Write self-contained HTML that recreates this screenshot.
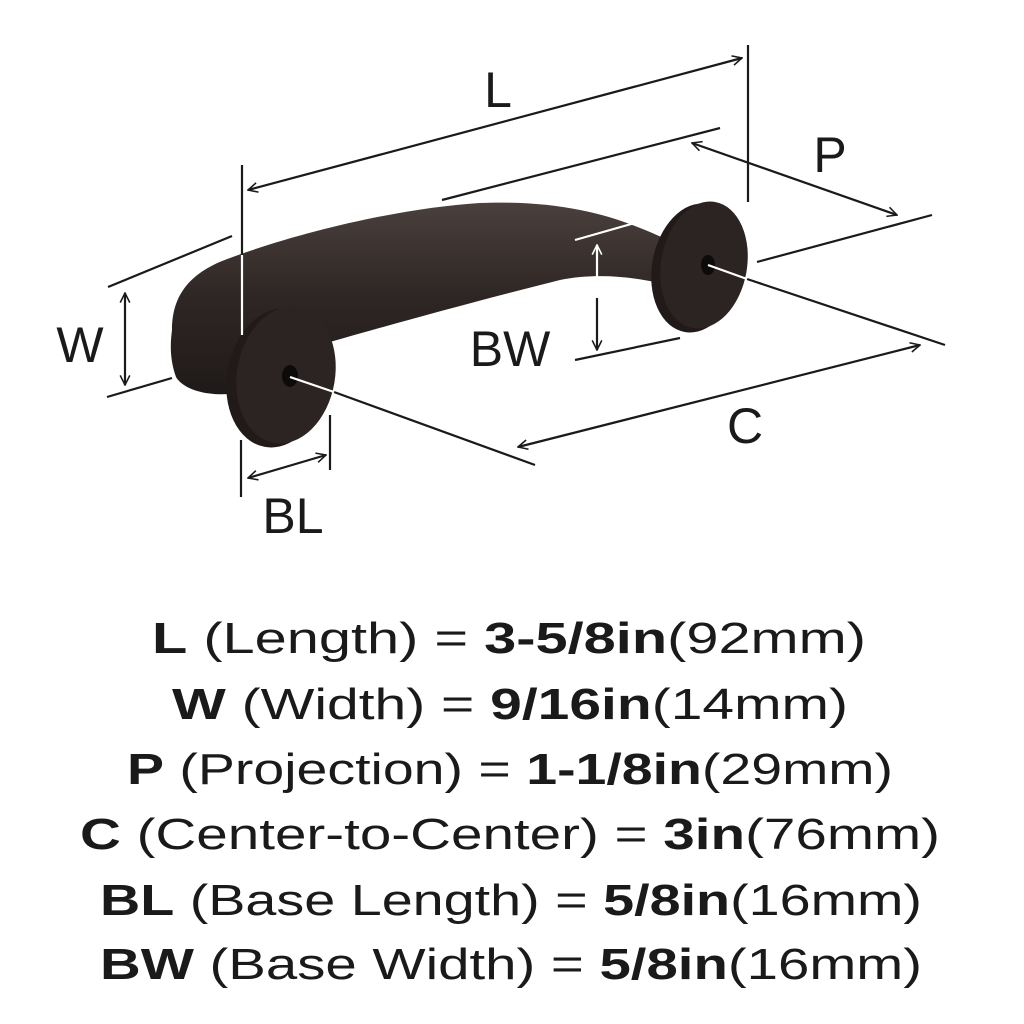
<!DOCTYPE html>
<html><head><meta charset="utf-8"><style>html,body{margin:0;padding:0;background:#fff}svg{display:block}</style></head>
<body>
<svg width="1024" height="1024" viewBox="0 0 1024 1024" xmlns="http://www.w3.org/2000/svg">
<defs>
<linearGradient id="hg" x1="0" y1="0" x2="0" y2="1">
<stop offset="0" stop-color="#4a403d"/><stop offset="0.5" stop-color="#2e2624"/><stop offset="1" stop-color="#1f1a19"/>
</linearGradient>
<marker id="ah" viewBox="0 0 10 10" refX="9" refY="5" markerWidth="12" markerHeight="12" orient="auto-start-reverse" markerUnits="userSpaceOnUse">
<path d="M1,1 L9,5 L1,9" fill="none" stroke="context-stroke" stroke-width="1.3"/>
</marker>
</defs>
<path d="M172,330 C172,295 190,272 230,258 C300,232 400,208 480,203 C560,200 610,215 650,232 L668,240 L668,285 C640,278 600,272 560,280 C480,300 400,322 330,342 C280,358 255,375 245,392 C215,398 185,392 176,377 C170,360 170,345 172,330 Z" fill="url(#hg)"/>
<ellipse cx="696" cy="268" rx="44" ry="65" transform="rotate(10 696 268)" fill="#211a19"/>
<ellipse cx="704" cy="265" rx="43" ry="64" transform="rotate(10 704 265)" fill="#2c2422"/>
<ellipse cx="708" cy="265" rx="7" ry="10" fill="#0d0a0a"/>
<ellipse cx="277" cy="378" rx="50" ry="70" transform="rotate(10 277 378)" fill="#211a19"/>
<ellipse cx="286" cy="375" rx="49" ry="69" transform="rotate(10 286 375)" fill="#2c2422"/>
<ellipse cx="290" cy="376" rx="8" ry="11" fill="#0d0a0a"/>
<g stroke="#1a1a1a" stroke-width="2.2" fill="none">
<line x1="248" y1="190" x2="742" y2="58" marker-start="url(#ah)" marker-end="url(#ah)"/>
<line x1="748" y1="45" x2="748" y2="202"/>
<line x1="242" y1="165" x2="242" y2="255"/>
<line x1="442" y1="200" x2="720" y2="128"/>
<line x1="692" y1="143" x2="897" y2="215" marker-start="url(#ah)" marker-end="url(#ah)"/>
<line x1="757" y1="262" x2="932" y2="215"/>
<line x1="108" y1="287" x2="232" y2="236"/>
<line x1="107" y1="397" x2="172" y2="378"/>
<line x1="125" y1="293" x2="125" y2="385" marker-start="url(#ah)" marker-end="url(#ah)"/>
<line x1="575" y1="360" x2="680" y2="338"/>
<line x1="747" y1="279" x2="945" y2="345"/>
<line x1="334" y1="392" x2="535" y2="465"/>
<line x1="518" y1="447" x2="920" y2="345" marker-start="url(#ah)" marker-end="url(#ah)"/>
<line x1="241" y1="440" x2="241" y2="497"/>
<line x1="330" y1="415" x2="330" y2="470"/>
<line x1="248" y1="478" x2="326" y2="455" marker-start="url(#ah)" marker-end="url(#ah)"/>
</g>
<g stroke="#fff" stroke-width="2.2" fill="none">
<line x1="242" y1="255" x2="242" y2="335"/>
<line x1="575" y1="240" x2="670" y2="213"/>
<line x1="597" y1="245" x2="597" y2="300" marker-start="url(#ah)"/>
<line x1="708" y1="265" x2="747" y2="279"/>
<line x1="290" y1="377" x2="334" y2="392"/>
</g>
<line x1="597" y1="298" x2="597" y2="350" stroke="#1a1a1a" stroke-width="2.2" marker-end="url(#ah)"/>
<g font-family="Liberation Sans, sans-serif" font-size="50" fill="#1a1a1a" text-anchor="middle">
<text x="498" y="107">L</text>
<text x="830" y="172">P</text>
<text x="80" y="362">W</text>
<text x="510" y="366">BW</text>
<text x="745" y="443">C</text>
<text x="293" y="533">BL</text>
</g>
<g font-family="Liberation Sans, sans-serif" font-size="44" fill="#1a1a1a">
<text x="152" y="653" textLength="714" lengthAdjust="spacingAndGlyphs"><tspan font-weight="bold">L</tspan> (Length) = <tspan font-weight="bold">3-5/8in</tspan>(92mm)</text>
<text x="172" y="719" textLength="676" lengthAdjust="spacingAndGlyphs"><tspan font-weight="bold">W</tspan> (Width) = <tspan font-weight="bold">9/16in</tspan>(14mm)</text>
<text x="127" y="784" textLength="766" lengthAdjust="spacingAndGlyphs"><tspan font-weight="bold">P</tspan> (Projection) = <tspan font-weight="bold">1-1/8in</tspan>(29mm)</text>
<text x="80" y="849" textLength="860" lengthAdjust="spacingAndGlyphs"><tspan font-weight="bold">C</tspan> (Center-to-Center) = <tspan font-weight="bold">3in</tspan>(76mm)</text>
<text x="100" y="915" textLength="822" lengthAdjust="spacingAndGlyphs"><tspan font-weight="bold">BL</tspan> (Base Length) = <tspan font-weight="bold">5/8in</tspan>(16mm)</text>
<text x="100" y="979" textLength="822" lengthAdjust="spacingAndGlyphs"><tspan font-weight="bold">BW</tspan> (Base Width) = <tspan font-weight="bold">5/8in</tspan>(16mm)</text>
</g>
</svg>
</body></html>
